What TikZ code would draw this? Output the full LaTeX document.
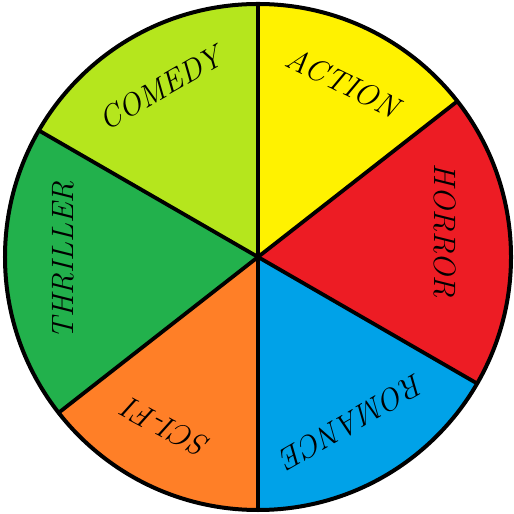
\documentclass[tikz,border=0pt]{standalone}
\usepackage{fontspec}
\usepackage{tikz}
\usetikzlibrary{calc}
\definecolor{actionyellow}{HTML}{FFF200}
\definecolor{horrorred}{HTML}{ED1C24}
\definecolor{romanceblue}{HTML}{00A2E8}
\definecolor{scifiorange}{HTML}{FF7F27}
\definecolor{thrillergreen}{HTML}{22B14C}
\definecolor{comedylime}{HTML}{B5E61D}

\begin{document}
\begin{tikzpicture}[
  x=1bp, y=1bp,
  spoke/.style={draw=black, line width=3.8bp, line cap=round},
  rim/.style={draw=black, line width=4bp},
  genre/.style={inner sep=0pt, font=\fontsize{31}{33}\selectfont\itshape\addfontfeature{LetterSpace=12}}
]
\useasboundingbox (0,0) rectangle (514,514);
\coordinate (c) at (258,257);

% slices
\fill[actionyellow]   (c) -- ([shift={(38:253bp)}]c)  arc[start angle=38,  end angle=90,  radius=253bp] -- cycle;
\fill[horrorred]      (c) -- ([shift={(-30:253bp)}]c) arc[start angle=-30, end angle=38,  radius=253bp] -- cycle;
\fill[romanceblue]    (c) -- ([shift={(-90:253bp)}]c) arc[start angle=-90, end angle=-30, radius=253bp] -- cycle;
\fill[scifiorange]    (c) -- ([shift={(218:253bp)}]c) arc[start angle=218, end angle=270, radius=253bp] -- cycle;
\fill[thrillergreen]  (c) -- ([shift={(150:253bp)}]c) arc[start angle=150, end angle=218, radius=253bp] -- cycle;
\fill[comedylime]     (c) -- ([shift={(90:253bp)}]c)  arc[start angle=90,  end angle=150, radius=253bp] -- cycle;

% spokes and rim
\coordinate (s1) at ([shift={(90:253bp)}]c);
\coordinate (s2) at ([shift={(38:253bp)}]c);
\coordinate (s3) at ([shift={(-30:253bp)}]c);
\coordinate (s4) at ([shift={(-90:253bp)}]c);
\coordinate (s5) at ([shift={(218:253bp)}]c);
\coordinate (s6) at ([shift={(150:253bp)}]c);
\draw[spoke] (c) -- (s1);
\draw[spoke] (c) -- (s2);
\draw[spoke] (c) -- (s3);
\draw[spoke] (c) -- (s4);
\draw[spoke] (c) -- (s5);
\draw[spoke] (c) -- (s6);
\draw[rim] (c) circle[radius=253bp];

% labels
\node[genre, rotate=-26]  (action)   at ([shift={(64:194bp)}]c)   {ACTION};
\node[genre, rotate=-90]  (horror)   at ([shift={(8:189bp)}]c)    {HORROR};
\node[genre, rotate=-150] (romance)  at ([shift={(-60:190bp)}]c)  {ROMANCE};
\node[genre, rotate=152]  (scifi)    at ([shift={(242:194bp)}]c)  {SCI-FI};
\node[genre, rotate=90]   (thriller) at ([shift={(181:195bp)}]c)  {THRILLER};
\node[genre, rotate=30]   (comedy)   at ([shift={(120:195bp)}]c)  {COMEDY};
\end{tikzpicture}
\end{document}
